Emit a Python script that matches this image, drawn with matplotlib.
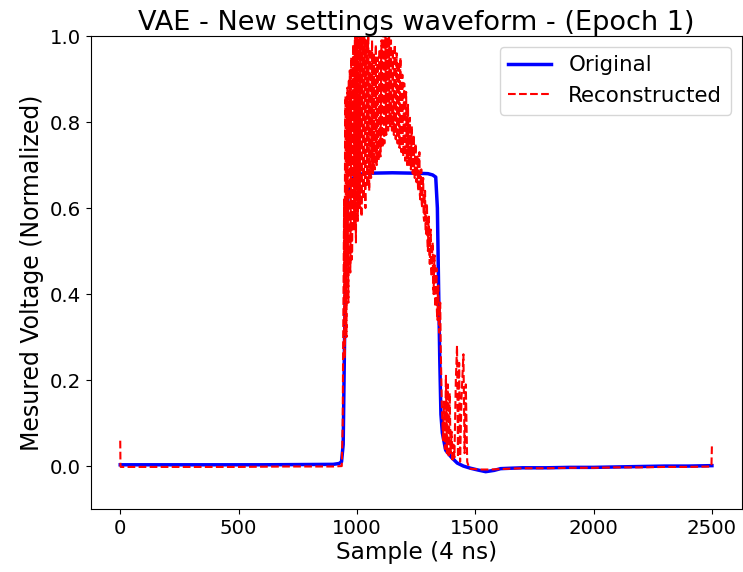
import numpy as np
import matplotlib
matplotlib.use('Agg')
from matplotlib import pyplot as plt

# 原始波形 (折线顶点)
orig_x = [0, 300, 600, 900, 925, 935, 942, 948, 955, 962, 975, 1000, 1050, 1150, 1250, 1300,
          1320, 1333, 1340, 1345, 1350, 1355, 1361, 1375, 1400, 1424, 1450, 1480, 1510,
          1544, 1580, 1607, 1650, 1700, 1800, 1900, 2000, 2100, 2200, 2300, 2400, 2500]
orig_y = [0.003, 0.003, 0.003, 0.004, 0.006, 0.01, 0.05, 0.3, 0.55, 0.63, 0.665, 0.678, 0.681, 0.682,
          0.681, 0.68, 0.677, 0.672, 0.6, 0.42, 0.25, 0.12, 0.077, 0.037, 0.02, 0.007, 0.0,
          -0.005, -0.009, -0.013, -0.01, -0.006, -0.005, -0.004, -0.004, -0.003, -0.003, -0.002,
          -0.001, 0.0, 0.0, 0.001]

# 重建波形: 平坦段
rec_head_x = [0, 1, 2, 100, 300, 500, 700, 900, 936]
rec_head_y = [0.059, 0.0, -0.002, -0.002, -0.002, -0.002, -0.001, -0.001, 0.0]

# 重建波形: 噪声段 (940 ~ 1360, 间隔 2)
rec_noisy_y = [0.10, 0.30, 0.45, 0.62, 0.25, 0.80, 0.86, 0.40, 0.30, 0.75,
               0.88, 0.52, 0.38, 0.90, 0.70, 0.92, 0.45, 0.60, 0.95, 0.48,
               0.50, 0.85, 0.98, 0.58, 0.55, 0.92, 1.03, 0.62, 0.52, 0.88,
               1.06, 0.70, 0.57, 0.95, 1.02, 0.66, 0.60, 0.82, 1.05, 0.59,
               0.58, 0.93, 1.01, 0.75, 0.62, 0.88, 1.04, 0.66, 0.60, 0.97,
               0.99, 0.71, 0.65, 0.94, 1.02, 0.78, 0.64, 0.90, 0.97, 0.68,
               0.67, 0.85, 0.99, 0.73, 0.68, 0.93, 0.96, 0.70, 0.69, 0.88,
               0.98, 0.76, 0.70, 0.91, 0.95, 0.74, 0.71, 0.86, 0.97, 0.73,
               0.72, 0.93, 0.99, 0.78, 0.74, 0.97, 1.02, 0.80, 0.75, 0.92,
               1.04, 0.82, 0.77, 0.95, 1.01, 0.84, 0.78, 0.93, 1.03, 0.81,
               0.79, 0.94, 0.99, 0.83, 0.78, 0.91, 0.97, 0.80, 0.77, 0.93,
               0.98, 0.82, 0.76, 0.90, 0.96, 0.79, 0.75, 0.88, 0.94, 0.77,
               0.74, 0.90, 0.95, 0.78, 0.73, 0.85, 0.91, 0.76, 0.72, 0.84,
               0.89, 0.75, 0.71, 0.83, 0.87, 0.73, 0.70, 0.80, 0.84, 0.72,
               0.70, 0.78, 0.81, 0.72, 0.69, 0.76, 0.79, 0.70, 0.68, 0.74,
               0.77, 0.69, 0.67, 0.73, 0.75, 0.68, 0.66, 0.70, 0.72, 0.65,
               0.64, 0.70, 0.73, 0.63, 0.62, 0.67, 0.69, 0.61, 0.60, 0.65,
               0.67, 0.58, 0.57, 0.62, 0.64, 0.55, 0.54, 0.59, 0.61, 0.52,
               0.50, 0.56, 0.58, 0.49, 0.47, 0.53, 0.55, 0.46, 0.44, 0.50,
               0.52, 0.42, 0.40, 0.46, 0.49, 0.39, 0.37, 0.43, 0.46, 0.36,
               0.34, 0.40, 0.42, 0.33, 0.31, 0.36, 0.38, 0.28, 0.22, 0.16,
               0.12]
rec_noisy_x = list(range(940, 1361, 2))

# 重建波形: 下降沿后的尖峰
rec_spike_x = [1364, 1368, 1372, 1376, 1380, 1384, 1388, 1392, 1396, 1400, 1404, 1408, 1412,
               1418, 1423, 1427, 1432, 1436, 1442, 1450, 1455, 1460, 1466]
rec_spike_y = [0.06, 0.15, 0.04, 0.21, 0.03, 0.19, 0.02, 0.17, 0.03, 0.08, 0.01, 0.05, 0.02,
               0.20, 0.28, 0.02, 0.24, 0.01, 0.16, 0.26, 0.03, 0.19, 0.01]

# 重建波形: 尾部
rec_tail_x = [1475, 1520, 1560, 1600, 1650, 1700, 1800, 1900, 2000, 2100, 2200, 2300, 2400, 2494, 2498, 2500]
rec_tail_y = [-0.006, -0.008, -0.008, -0.007, -0.006, -0.005, -0.005, -0.004, -0.004, -0.003,
              -0.003, -0.002, -0.002, -0.001, 0.0, 0.05]

rec_x = rec_head_x + rec_noisy_x + rec_spike_x + rec_tail_x
rec_y = rec_head_y + rec_noisy_y + rec_spike_y + rec_tail_y

fig = plt.figure(figsize=(7.43, 5.72), dpi=100)
ax = fig.add_axes([0.122, 0.110, 0.876, 0.827])
ax.plot(orig_x, orig_y, color='blue', lw=2.5, label='Original')
ax.plot(rec_x, rec_y, color='red', lw=1.5, ls='--', label='Reconstructed')
ax.set_xlim(-125, 2625)
ax.set_ylim(-0.1, 1.0)
ax.set_title('VAE - New settings waveform - (Epoch 1)', fontsize=19.5, pad=4)
ax.set_xlabel('Sample (4 ns)', fontsize=16.7, labelpad=2)
ax.set_ylabel('Mesured Voltage (Normalized)', fontsize=17, labelpad=4)
ax.tick_params(labelsize=14.2)
ax.legend(loc='upper right', fontsize=15.4)

fig.savefig('out.png', dpi=100)
